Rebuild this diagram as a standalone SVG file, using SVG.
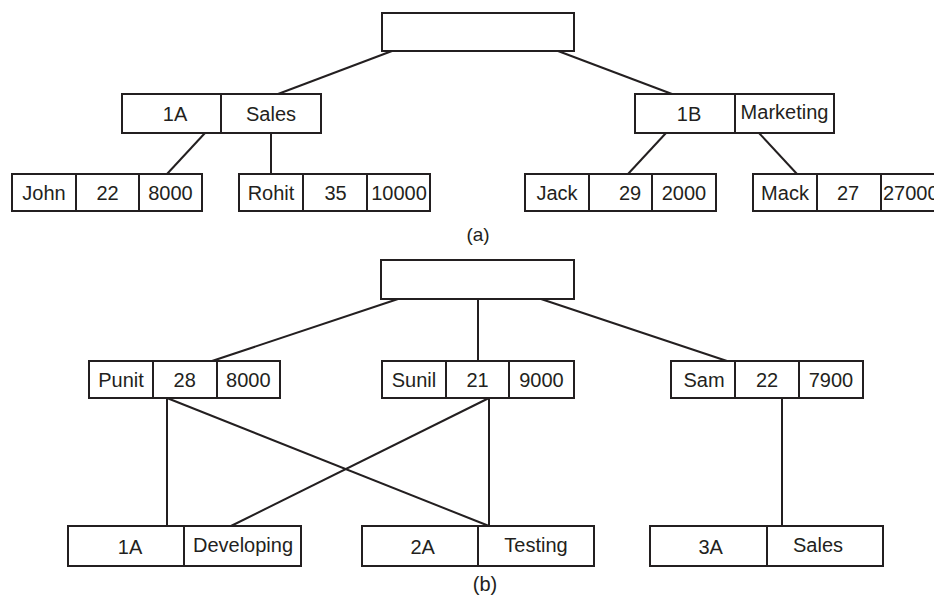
<svg xmlns="http://www.w3.org/2000/svg" width="934" height="598" viewBox="0 0 934 598">
<style>
.box{fill:#fff;stroke:#231f20;stroke-width:2}
.div{stroke:#231f20;stroke-width:2}
.con line{stroke:#231f20;stroke-width:2;fill:none}
text{font-family:"Liberation Sans",Arial,sans-serif;font-size:20px;fill:#231f20;text-anchor:middle}
.cap{font-size:19px}
</style>
<rect width="934" height="598" fill="#fff"/>
<g id="connectors" class="con">
<line x1="392" y1="51" x2="278" y2="94"/>
<line x1="558" y1="51" x2="672" y2="94"/>
<line x1="205" y1="133" x2="167" y2="174"/>
<line x1="271" y1="133" x2="271" y2="174"/>
<line x1="666" y1="133" x2="628" y2="174"/>
<line x1="759" y1="133" x2="797" y2="174"/>
<line x1="398" y1="299" x2="212" y2="361"/>
<line x1="478" y1="299" x2="478" y2="361"/>
<line x1="541" y1="299" x2="727" y2="361"/>
<line x1="167" y1="398" x2="167" y2="526"/>
<line x1="167" y1="398" x2="489" y2="526"/>
<line x1="489" y1="398" x2="489" y2="526"/>
<line x1="489" y1="398" x2="231" y2="526"/>
<line x1="782" y1="398" x2="782" y2="526"/>
</g>
<g id="rootA"><rect class="box" x="382" y="13" width="192" height="38"/></g>
<g id="n1A">
<rect class="box" x="122" y="94" width="199" height="39"/>
<line class="div" x1="221" y1="94" x2="221" y2="133"/>
<text x="175" y="121">1A</text><text x="271" y="121">Sales</text>
</g>
<g id="n1B">
<rect class="box" x="635" y="94" width="199" height="39"/>
<line class="div" x1="735" y1="94" x2="735" y2="133"/>
<text x="689" y="121">1B</text><text x="784.5" y="119">Marketing</text>
</g>
<g id="john">
<rect class="box" x="12" y="174" width="190" height="37"/>
<line class="div" x1="76" y1="174" x2="76" y2="211"/>
<line class="div" x1="139" y1="174" x2="139" y2="211"/>
<text x="44" y="200">John</text><text x="107.5" y="200">22</text><text x="170.5" y="200">8000</text>
</g>
<g id="rohit">
<rect class="box" x="239" y="174" width="191" height="37"/>
<line class="div" x1="303" y1="174" x2="303" y2="211"/>
<line class="div" x1="367" y1="174" x2="367" y2="211"/>
<text x="271" y="200">Rohit</text><text x="335.5" y="200">35</text><text x="399" y="200">10000</text>
</g>
<g id="jack">
<rect class="box" x="525" y="174" width="191" height="37"/>
<line class="div" x1="589" y1="174" x2="589" y2="211"/>
<line class="div" x1="652" y1="174" x2="652" y2="211"/>
<text x="557" y="200">Jack</text><text x="630" y="200">29</text><text x="684" y="200">2000</text>
</g>
<g id="mack">
<rect class="box" x="753" y="174" width="192" height="37"/>
<line class="div" x1="817" y1="174" x2="817" y2="211"/>
<line class="div" x1="881" y1="174" x2="881" y2="211"/>
<text x="785" y="200">Mack</text><text x="848" y="200">27</text><text x="883" y="200" style="text-anchor:start">27000</text>
</g>
<text class="cap" x="478" y="241">(a)</text>
<g id="rootB"><rect class="box" x="381" y="260" width="193" height="39"/></g>
<g id="punit">
<rect class="box" x="89" y="361" width="191" height="37"/>
<line class="div" x1="153" y1="361" x2="153" y2="398"/>
<line class="div" x1="217" y1="361" x2="217" y2="398"/>
<text x="121" y="387">Punit</text><text x="184.7" y="387">28</text><text x="248.3" y="387">8000</text>
</g>
<g id="sunil">
<rect class="box" x="382" y="361" width="192" height="37"/>
<line class="div" x1="446" y1="361" x2="446" y2="398"/>
<line class="div" x1="509" y1="361" x2="509" y2="398"/>
<text x="414" y="387">Sunil</text><text x="477.5" y="387">21</text><text x="541.5" y="387">9000</text>
</g>
<g id="sam">
<rect class="box" x="671" y="361" width="192" height="37"/>
<line class="div" x1="735" y1="361" x2="735" y2="398"/>
<line class="div" x1="799" y1="361" x2="799" y2="398"/>
<text x="704" y="387">Sam</text><text x="767" y="387">22</text><text x="831" y="387">7900</text>
</g>
<g id="dev">
<rect class="box" x="68" y="526" width="233" height="40"/>
<line class="div" x1="184" y1="526" x2="184" y2="566"/>
<text x="130" y="554">1A</text><text x="243" y="552">Developing</text>
</g>
<g id="test">
<rect class="box" x="362" y="526" width="232" height="40"/>
<line class="div" x1="478" y1="526" x2="478" y2="566"/>
<text x="422.7" y="554">2A</text><text x="536" y="552">Testing</text>
</g>
<g id="sales3A">
<rect class="box" x="650" y="526" width="233" height="40"/>
<line class="div" x1="767" y1="526" x2="767" y2="566"/>
<text x="710.7" y="554">3A</text><text x="818" y="552">Sales</text>
</g>
<text x="485" y="591">(b)</text>
</svg>
